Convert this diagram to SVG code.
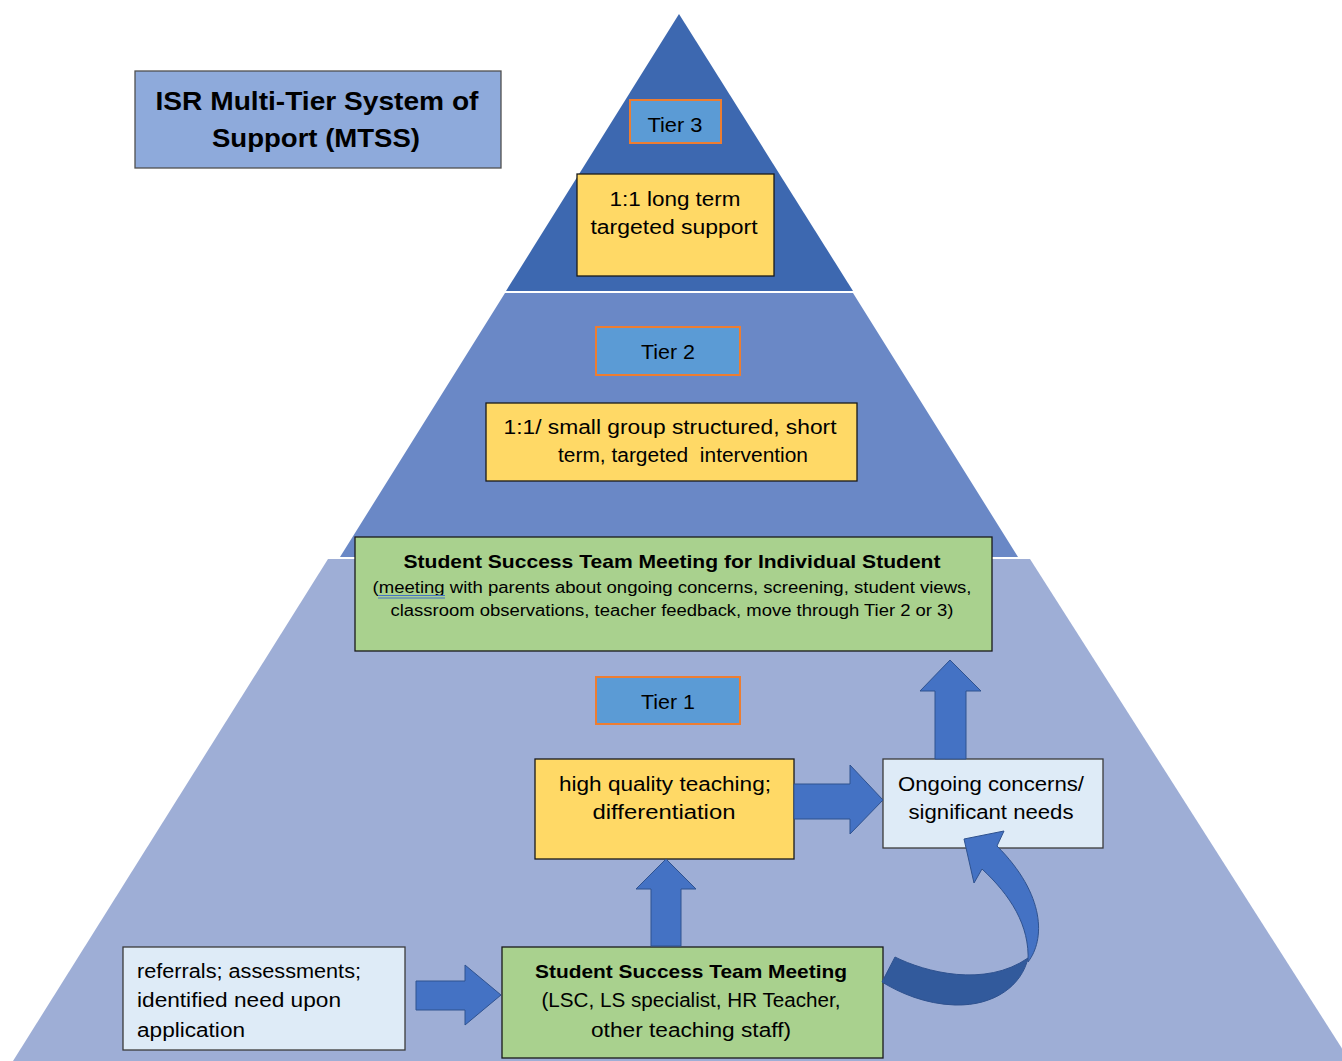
<svg xmlns="http://www.w3.org/2000/svg" width="1342" height="1061" viewBox="0 0 1342 1061">
<style>
text{font-family:"Liberation Sans",Arial,sans-serif;fill:#000}
.c{text-anchor:middle}
.b{font-weight:bold}
.lbl{fill:#5b9bd5;stroke:#ed7d31;stroke-width:2}
.yel{fill:#ffd966;stroke:#1a1a1a;stroke-width:1.3}
.grn{fill:#a9d18e;stroke:#1a1a1a;stroke-width:1.3}
.lb{fill:#deebf7;stroke:#3b3b3b;stroke-width:1.3}
.arr{fill:#4472c4;stroke:#2f528f;stroke-width:1}
</style>
<g id="pyramid">
<polygon points="679,14 853,291 506,291" fill="#3d68b0"/>
<polygon points="505,293 853,293 1018,557 340,557" fill="#6a88c6"/>
<polygon points="328,559 1030,559 1350,1061 13,1061" fill="#9eaed6"/>
</g>
<g id="title">
<rect x="135" y="71" width="366" height="97" fill="#8eaadb" stroke="#505050" stroke-width="1.3"/>
<text class="c b" x="317" y="110" font-size="25" textLength="323" lengthAdjust="spacingAndGlyphs">ISR Multi-Tier System of</text>
<text class="c b" x="316" y="147" font-size="25" textLength="208" lengthAdjust="spacingAndGlyphs">Support (MTSS)</text>
</g>
<g id="tier3-label">
<rect class="lbl" x="630" y="100" width="91" height="43"/>
<text class="c" x="675" y="132" font-size="20" textLength="55" lengthAdjust="spacingAndGlyphs">Tier 3</text>
</g>
<g id="tier3-box">
<rect class="yel" x="577" y="174" width="197" height="102"/>
<text class="c" x="675" y="206" font-size="20" textLength="131" lengthAdjust="spacingAndGlyphs">1:1 long term</text>
<text class="c" x="674" y="234" font-size="20" textLength="167" lengthAdjust="spacingAndGlyphs">targeted support</text>
</g>
<g id="tier2-label">
<rect class="lbl" x="596" y="327" width="144" height="48"/>
<text class="c" x="668" y="359" font-size="20" textLength="54" lengthAdjust="spacingAndGlyphs">Tier 2</text>
</g>
<g id="tier2-box">
<rect class="yel" x="486" y="403" width="371" height="78"/>
<text class="c" x="670" y="434" font-size="20" textLength="333" lengthAdjust="spacingAndGlyphs">1:1/ small group structured, short</text>
<text class="c" x="683" y="462" font-size="20" textLength="250" lengthAdjust="spacingAndGlyphs" xml:space="preserve" style="white-space:pre">term, targeted  intervention</text>
</g>
<g id="sst-individual">
<rect class="grn" x="355" y="537" width="637" height="114"/>
<text class="c b" x="672" y="568" font-size="19" textLength="537" lengthAdjust="spacingAndGlyphs">Student Success Team Meeting for Individual Student</text>
<text class="c" x="672" y="593" font-size="16" textLength="599" lengthAdjust="spacingAndGlyphs">(meeting with parents about ongoing concerns, screening, student views,</text>
<text class="c" x="672" y="616" font-size="16" textLength="563" lengthAdjust="spacingAndGlyphs">classroom observations, teacher feedback, move through Tier 2 or 3)</text>
<path d="M378,595.5H445M378,598H445" stroke="#4472c4" stroke-width="1" fill="none"/>
</g>
<g id="tier1-label">
<rect class="lbl" x="596" y="677" width="144" height="47"/>
<text class="c" x="668" y="709" font-size="20" textLength="54" lengthAdjust="spacingAndGlyphs">Tier 1</text>
</g>
<g id="tier1-box">
<rect class="yel" x="535" y="759" width="259" height="100"/>
<text class="c" x="665" y="791" font-size="20" textLength="212" lengthAdjust="spacingAndGlyphs">high quality teaching;</text>
<text class="c" x="664" y="819" font-size="20" textLength="143" lengthAdjust="spacingAndGlyphs">differentiation</text>
</g>
<g id="ongoing">
<rect class="lb" x="883" y="759" width="220" height="89"/>
<text class="c" x="991" y="791" font-size="20" textLength="186" lengthAdjust="spacingAndGlyphs">Ongoing concerns/</text>
<text class="c" x="991" y="819" font-size="20" textLength="165" lengthAdjust="spacingAndGlyphs">significant needs</text>
</g>
<g id="referrals">
<rect class="lb" x="123" y="947" width="282" height="103"/>
<text x="137" y="978" font-size="20" textLength="224" lengthAdjust="spacingAndGlyphs">referrals; assessments;</text>
<text x="137" y="1007" font-size="20" textLength="204" lengthAdjust="spacingAndGlyphs">identified need upon</text>
<text x="137" y="1037" font-size="20" textLength="108" lengthAdjust="spacingAndGlyphs">application</text>
</g>
<g id="sst">
<rect class="grn" x="502" y="947" width="381" height="111"/>
<text class="c b" x="691" y="978" font-size="19" textLength="312" lengthAdjust="spacingAndGlyphs">Student Success Team Meeting</text>
<text class="c" x="691" y="1007" font-size="20" textLength="299" lengthAdjust="spacingAndGlyphs">(LSC, LS specialist, HR Teacher,</text>
<text class="c" x="691" y="1037" font-size="20" textLength="200" lengthAdjust="spacingAndGlyphs">other teaching staff)</text>
</g>
<g id="connectors">
<polygon class="arr" points="416,981 465,981 465,965 501,995 465,1025 465,1010 416,1010"/>
<polygon class="arr" points="651,946 651,889 636,889 666,859 696,889 681,889 681,946"/>
<polygon class="arr" points="794,784 850,784 850,765 883,800 850,834 850,819 794,819"/>
<polygon class="arr" points="935,759 935,691 920,691 950,660 981,691 966,691 966,759"/>
<path d="M882,982 L895,957 C925,972 985,988 1028,958 C1022,985 995,1006 955,1005 C925,1004 900,993 882,982 Z" fill="#325a9c" stroke="#2f528f" stroke-width="1"/>
<path d="M1028,962 C1045,940 1046,895 997,846 L1004,831 L964,839 L974,883 L982,869 C1010,895 1030,925 1028,962 Z" fill="#4472c4" stroke="#2f528f" stroke-width="1"/>
</g>
</svg>
